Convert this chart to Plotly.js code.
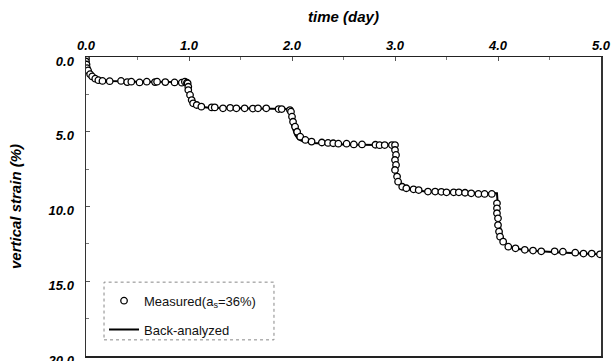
<!DOCTYPE html>
<html>
<head>
<meta charset="utf-8">
<script src="https://cdn.plot.ly/plotly-3.0.1.min.js"></script>
<style>html,body{margin:0;padding:0;background:#fff;}#chart{width:614px;height:361px;}</style>
</head>
<body>
<div id="chart"></div>
<script>
// Measured data: time (day) and vertical strain (%)
const measuredTime = [0.0, 0.0, 0.005, 0.01, 0.02, 0.04, 0.06, 0.09, 0.12, 0.16,
  0.23, 0.34, 0.40, 0.44, 0.52, 0.59, 0.67, 0.69, 0.77, 0.86, 0.93, 0.96, 0.98,
  0.987, 0.993, 0.993, 1.01, 1.026, 1.04, 1.075, 1.12, 1.22, 1.25, 1.33, 1.40, 1.46, 1.54, 1.62, 1.67, 1.75, 1.87, 1.90, 1.98,
  1.99, 2.0, 2.01, 2.03, 2.05, 2.08, 2.13,
  2.19, 2.29, 2.35, 2.40, 2.45, 2.53, 2.60, 2.68, 2.81, 2.85, 2.90, 2.97, 3.0,
  3.0, 3.01, 3.0, 3.01, 3.0, 3.02, 3.03, 3.07, 3.11, 3.18, 3.23, 3.32, 3.39, 3.45, 3.50, 3.57, 3.62, 3.68, 3.74, 3.81, 3.87, 3.94,
  3.99, 3.99, 3.99, 4.0, 4.0, 4.01, 4.02, 4.05, 4.10, 4.17, 4.26, 4.34, 4.42, 4.55, 4.63, 4.75, 4.83, 4.91, 4.99];
const measuredStrain = [0.1, 0.3, 0.5, 0.75, 0.9, 1.15, 1.3, 1.45, 1.55, 1.6,
  1.62, 1.6, 1.68, 1.65, 1.7, 1.65, 1.68, 1.65, 1.68, 1.7, 1.72, 1.65, 1.72,
  1.76, 1.99, 2.21, 2.54, 2.88, 3.1, 3.21, 3.32, 3.37, 3.37, 3.43, 3.4, 3.43, 3.43, 3.45, 3.43, 3.43, 3.48, 3.48, 3.55,
  3.66, 3.99, 4.33, 4.66, 5.0, 5.33, 5.55,
  5.66, 5.72, 5.75, 5.77, 5.8, 5.8, 5.85, 5.85, 5.87, 5.9, 5.89, 5.89, 5.89,
  6.22, 6.55, 6.89, 7.22, 7.56, 8.0, 8.34, 8.68, 8.78, 8.85, 8.9, 9.0, 9.0, 9.02, 9.05, 9.05, 9.05, 9.08, 9.12, 9.16, 9.16, 9.16,
  9.79, 10.12, 10.45, 10.79, 11.24, 11.68, 12.02, 12.35, 12.69, 12.8, 12.9, 12.95, 13.0, 13.0, 13.02, 13.09, 13.15, 13.15, 13.2];

// Back-analyzed curve
const modelTime = [0, 0.01, 0.03, 0.06, 0.1, 0.15, 0.25, 0.5, 0.99, 0.995, 1.01, 1.03, 1.06, 1.1, 1.2, 1.5,
  1.98, 1.985, 2.0, 2.03, 2.06, 2.1, 2.2, 2.5, 2.99, 2.995, 3.01, 3.04, 3.08, 3.15, 3.3, 3.6,
  3.99, 3.995, 4.01, 4.04, 4.08, 4.15, 4.3, 4.6, 5.0];
const modelStrain = [0, 0.5, 0.9, 1.2, 1.4, 1.52, 1.6, 1.65, 1.68, 1.9, 2.6, 3.05, 3.25, 3.33, 3.4, 3.43,
  3.48, 3.8, 4.6, 5.2, 5.5, 5.62, 5.75, 5.85, 5.9, 6.3, 7.5, 8.3, 8.7, 8.88, 9.0, 9.07,
  9.12, 9.6, 11.0, 12.0, 12.55, 12.8, 12.95, 13.07, 13.2];

const xTickVals = [0, 1, 2, 3, 4, 5];
const yTickVals = [0, 5, 10, 15, 20];

const tickFont = {family: 'Arial, Liberation Sans, sans-serif', size: 13, color: '#000', weight: 'bold', style: 'italic'};
const titleFont = {family: 'Arial, Liberation Sans, sans-serif', size: 15, color: '#000', weight: 'bold', style: 'italic'};

const traces = [
  {
    x: modelTime, y: modelStrain, type: 'scatter', mode: 'lines',
    name: 'Back-analyzed', line: {color: '#000', width: 2},
    legendrank: 2, legendgroup: 'b'
  },
  {
    x: measuredTime, y: measuredStrain, type: 'scatter', mode: 'markers',
    name: 'Measured(a<sub>s</sub>=36%)',
    marker: {symbol: 'circle', size: 6.5, color: '#fff', line: {color: '#000', width: 1.3}},
    legendrank: 1, legendgroup: 'a'
  }
];

const layout = {
  width: 614, height: 361,
  margin: {l: 86, r: 13, t: 57, b: 5},
  paper_bgcolor: '#fff', plot_bgcolor: '#fff',
  showlegend: true,
  legend: {
    x: 0.035, y: 0.235, xanchor: 'left', yanchor: 'top',
    bgcolor: 'rgba(0,0,0,0)', borderwidth: 0,
    font: {family: 'Arial, Liberation Sans, sans-serif', size: 13, color: '#111'},
    tracegroupgap: 9
  },
  xaxis: {
    side: 'top', range: [0, 5], tickvals: xTickVals, tickformat: '.1f',
    ticks: 'inside', ticklen: 4, tickcolor: '#555',
    minor: {dtick: 0.5, ticks: 'inside', ticklen: 3, tickcolor: '#777'},
    showline: true, linecolor: '#222', linewidth: 1.5, mirror: true,
    showgrid: false, zeroline: false, tickfont: tickFont,
    title: {text: 'time (day)', font: titleFont, standoff: 12}
  },
  yaxis: {
    range: [20, 0], tickvals: yTickVals, tickformat: '.1f',
    ticks: 'inside', ticklen: 4, tickcolor: '#555',
    minor: {dtick: 2.5, ticks: 'inside', ticklen: 3, tickcolor: '#777'},
    showline: true, linecolor: '#333', linewidth: 1.5, mirror: true,
    showgrid: false, zeroline: false, tickfont: tickFont,
    ticklabelstandoff: 8, ticklabelshift: -4, ticklabeloverflow: 'allow',
    title: {text: 'vertical strain (%)', font: titleFont, standoff: 22}
  },
  shapes: [{
    type: 'rect', xref: 'paper', yref: 'paper',
    x0: 0.035, x1: 0.365, y0: 0.054, y1: 0.247,
    line: {color: '#888', width: 1, dash: 'dot'}
  }]
};

Plotly.newPlot('chart', traces, layout, {displayModeBar: false, staticPlot: true});
</script>
</body>
</html>
